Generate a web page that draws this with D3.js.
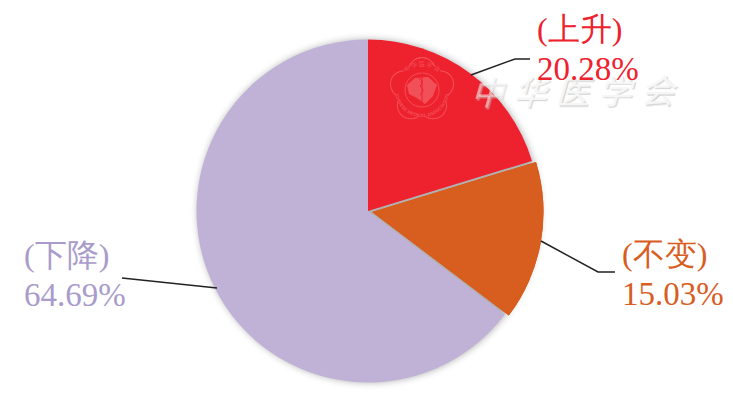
<!DOCTYPE html>
<html><head><meta charset="utf-8">
<script src="https://cdn.jsdelivr.net/npm/d3@7"></script>
<style>html,body{margin:0;background:#fff}svg{display:block}
.lab text{font-family:"Liberation Serif","Times New Roman","DejaVu Serif",serif}
.cjk{font-family:"Noto Sans CJK SC"}</style></head>
<body><svg id="c" width="733" height="402"></svg>
<script>
const categories = ["上升", "不变", "下降"];
const values = [20.28, 15.03, 64.69];
const valueLabels = ["20.28%", "15.03%", "64.69%"];
const colors = ["#ee222e", "#d85e1f", "#c0b1d7"];
const textColors = ["#ee222e", "#d85e1f", "#a99ccb"];
const offsets = [[368,211],[372,212],[368,211]];
const labelPos = [[537,40],[622,265],[24,266]];
const leaders = [
  [[471,75],[515,59],[530,59]],
  [[541,241],[598,272],[615,272]],
  [[122,278],[217,288]]
];
const watermarkChars = ["中","华","医","学","会"];
const svg = d3.select("#c");
const defs = svg.append("defs");
const f = defs.append("filter").attr("id","s").attr("x","-10%").attr("y","-10%").attr("width","120%").attr("height","120%");
f.append("feGaussianBlur").attr("stdDeviation",3.5);
const f2 = defs.append("filter").attr("id","w").attr("x","-20%").attr("y","-20%").attr("width","140%").attr("height","140%");
f2.append("feGaussianBlur").attr("stdDeviation",0.6);
defs.append("path").attr("id","sealTop").attr("d","M-24,0 A24,24 0 0 1 24,0");
defs.append("path").attr("id","sealBot").attr("d","M-27,0 A27,27 0 0 0 27,0");

const R = 171.5;
const pie = d3.pie().sort(null).value(d=>d)(values);
const arc = d3.arc().innerRadius(0).outerRadius(R);

svg.append("circle").attr("cx",369).attr("cy",211).attr("r",R)
  .attr("fill","#888").attr("opacity",0.65).attr("filter","url(#s)");

svg.selectAll("path.slice").data(pie).join("path").attr("class","slice")
  .attr("transform",(d,i)=>`translate(${offsets[i]})`)
  .attr("d",arc).attr("fill",(d,i)=>colors[i]);
svg.append("path").attr("transform",`translate(${offsets[1]})`).attr("d",arc(pie[1])).attr("fill",colors[1]);

const wm = svg.append("g").attr("class","cjk").attr("font-size",33);
watermarkChars.forEach((ch,i)=>{
  const x = 487 + i*42.5, y = 105 - i*0.5;
  wm.append("text").attr("transform",`translate(${x+1.5},${y+1.5}) skewX(-16)`).attr("text-anchor","middle")
    .attr("fill","#cfcfcf").attr("opacity",i===0?0.5:0.8).attr("filter","url(#w)").text(ch);
  wm.append("text").attr("transform",`translate(${x},${y}) skewX(-16)`).attr("text-anchor","middle")
    .attr("fill","#f6f6f6").attr("opacity",i===0?0.55:1).text(ch);
});

const line = d3.line();
svg.selectAll("path.lead").data(leaders).join("path").attr("class","lead")
  .attr("d",d=>line(d)).attr("fill","none").attr("stroke","#222").attr("stroke-width",1.5);

const sealColor = "#f4646c";
const seal = svg.append("g").attr("transform","translate(422,90)").attr("fill","none").attr("stroke",sealColor).attr("opacity",0.7);
const scallop = d3.range(0,5).map(i=>i*72-90);
scallop.forEach(a=>{
  const r=a*Math.PI/180;
  seal.append("path").attr("stroke-width",1)
    .attr("d",d3.arc().innerRadius(13.5).outerRadius(13.5).startAngle(-1.25).endAngle(1.25)())
    .attr("transform",`translate(${19*Math.cos(r)},${19*Math.sin(r)}) rotate(${a+90})`);
});
seal.append("circle").attr("r",17).attr("stroke-width",1);
seal.append("path").attr("d","M-15,-5 L-7,-12 L6,-13 L15,-5 L11,6 L3,14 L-5,8 L-13,4 Z").attr("fill",sealColor).attr("stroke","none");
seal.append("path").attr("d","M0,-18 L0,16 M-3,-12 Q3,-8 -2,-4 Q4,0 -2,5").attr("stroke","#ee222e").attr("stroke-width",1);
const st = seal.append("text").attr("class","cjk").attr("font-size",6).attr("fill",sealColor).attr("stroke","none").attr("text-anchor","middle");
st.append("textPath").attr("href","#sealTop").attr("startOffset","50%").text("中 华 医 学 会");
const bt = seal.append("text").attr("font-family","Liberation Sans").attr("font-weight","bold").attr("font-size",4.6).attr("fill",sealColor).attr("stroke","none").attr("text-anchor","middle");
bt.append("textPath").attr("href","#sealBot").attr("startOffset","50%").text("CHINESE MEDICAL ASSOCIATION");

const lab = svg.selectAll("g.lab").data(categories).join("g").attr("class","lab")
  .attr("transform",(d,i)=>`translate(${labelPos[i]})`)
  .attr("fill",(d,i)=>textColors[i]);
lab.append("text").attr("font-size",32).attr("y",0).text(d=>`(${d})`);
lab.append("text").attr("font-size",33).attr("y",40).text((d,i)=>valueLabels[i]);
</script></body></html>
